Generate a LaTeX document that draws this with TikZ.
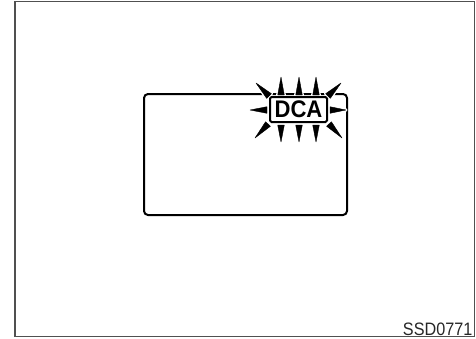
\documentclass[tikz,border=0pt]{standalone}
\usepackage{fontspec}
\usepackage{graphicx}
\usetikzlibrary{calc}
\newfontfamily\lsans{Liberation Sans}
\definecolor{framegray}{HTML}{505050}
\tikzset{
  frameline/.style={draw=framegray, line width=1.6pt},
  screen/.style={draw=black, line width=2pt, rounded corners=4pt},
  dcabox/.style={draw=black, fill=white, line width=2pt, rounded corners=1.5pt,
    minimum width=57pt, minimum height=25pt, inner sep=0pt,
    font=\lsans\bfseries\fontsize{24}{24}\selectfont},
  codelabel/.style={inner sep=0pt, anchor=base east, text=black!85,
    font=\lsans\fontsize{18}{18}\selectfont},
  rayhalo/.style={fill=white, draw=white, line width=3.2pt, line join=round},
  rayfill/.style={fill=black, draw=black, line width=0.4pt, line join=round}
}
\begin{document}
\begin{tikzpicture}[x=1pt,y=-1pt]
\useasboundingbox (0,0) rectangle (476,338);
% outer frame
\draw[frameline] (15,1.5) rectangle (474.5,336.5);
% screen
\draw[screen] (144,94) rectangle (347,215);
% rays: base x/y, tip x/y
\def\raylist{281/95/281/77, 299/95/299/77, 316/95/316/77,
  281/125/281/142, 299/125/299/142, 316/125/316/142,
  267/110/250/110, 330/110/346/110,
  269/96/256/83, 328/96/341/83, 268/124/255/138, 329/124/342/138}
\foreach \bx/\by/\tx/\ty in \raylist {
  \path[rayhalo] ($(\bx,\by)!3.3pt!90:(\tx,\ty)$) -- (\tx,\ty) -- ($(\bx,\by)!3.3pt!-90:(\tx,\ty)$) -- cycle;
}
\foreach \bx/\by/\tx/\ty in \raylist {
  \path[rayfill] ($(\bx,\by)!3.3pt!90:(\tx,\ty)$) -- (\tx,\ty) -- ($(\bx,\by)!3.3pt!-90:(\tx,\ty)$) -- cycle;
}
% DCA indicator
\node[dcabox] (dca) at (298.5,109.5) {\scalebox{0.92}[1]{DCA}};
% code label
\node[codelabel] (code) at (472.5,335) {\scalebox{0.9}[1]{SSD0771}};
\end{tikzpicture}
\end{document}
